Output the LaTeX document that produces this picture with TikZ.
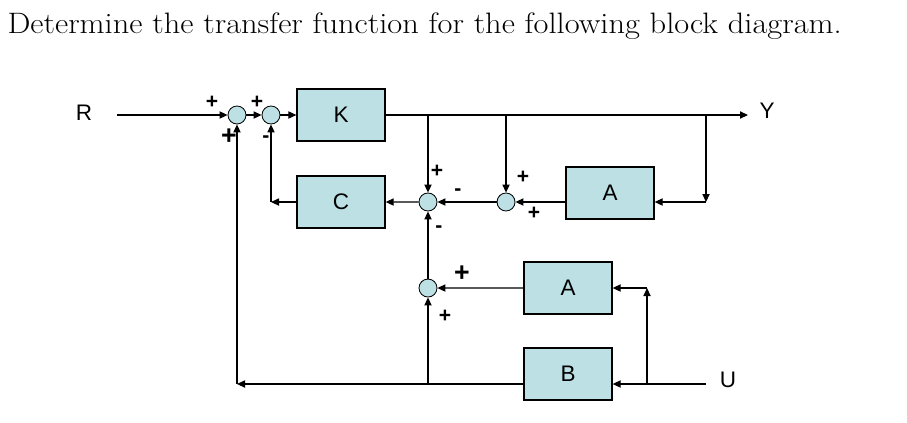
\documentclass[tikz,border=0pt]{standalone}
\usepackage{graphicx}
\usepackage{fontspec}
\setsansfont{Liberation Sans}
\usetikzlibrary{arrows.meta,positioning}

\definecolor{blockfill}{RGB}{188,224,228}

\tikzset{
  block/.style={draw,fill=blockfill,line width=0.9pt,minimum width=2.2cm,minimum height=1.3cm,inner sep=0pt,font=\sffamily\fontsize{16}{18}\selectfont},
  sum/.style={draw,circle,fill=blockfill,line width=0.6pt,minimum size=0.45cm,inner sep=0pt},
  sign/.style={font=\sffamily\bfseries\fontsize{15}{17}\selectfont,inner sep=0pt},
  bigsign/.style={font=\sffamily\bfseries\fontsize{19}{21}\selectfont,inner sep=0pt},
  lbl/.style={font=\sffamily\fontsize{16}{18}\selectfont,inner sep=0pt}
}

\begin{document}
\begin{tikzpicture}[x=0.025cm,y=-0.025cm,line width=0.8pt,>={Triangle[length=2mm,width=1.8mm]}]
\useasboundingbox (0,0) rectangle (907,422);

\node[anchor=base west,inner sep=0pt] (title) at (7,33)
  {\resizebox{20.85cm}{\height}{\fontsize{21}{25}\selectfont Determine the transfer function for the following block diagram.}};

\node[lbl]   (R)  at (84,113)                               {R};
\node[sum]   (S1) at (237,115)                              {};
\node[sum]   (S2) [node distance=0.85cm,right of=S1]        {};
\node[block] (K)  [node distance=1.75cm,right of=S2]        {K};
\node[block] (C)  [node distance=2.175cm,below of=K]        {C};
\node[sum]   (S3) at (428,202)                              {};
\node[sum]   (S4) [node distance=1.95cm,right of=S3]        {};
\node[block] (A1) at (610,193)                              {A};
\node[sum]   (S5) [node distance=2.15cm,below of=S3]        {};
\node[block] (A2) at (568,288)                              {A};
\node[block] (B)  [node distance=2.15cm,below of=A2]        {B};
\node[lbl]   (Y)  at (767,111)                              {Y};
\node[lbl]   (U)  at (728,380)                              {U};

% signs at the summing points
\node[sign]    (p1) at (212,102) {+};
\node[bigsign] (p2) at (229,137) {+};
\node[sign]    (p3) at (257,102) {+};
\node[sign]    (m1) at (266,139) {-};
\node[sign]    (p4) at (437,171) {+};
\node[sign]    (m2) at (458,192) {-};
\node[sign]    (m3) at (439,229) {-};
\node[sign]    (p5) at (523,177) {+};
\node[sign]    (p6) at (534,213) {+};
\node[bigsign] (p7) at (462,274) {+};
\node[sign]    (p8) at (445,316) {+};

\coordinate (Rin)  at (117,115);
\coordinate (Yout) at (748,115);
\coordinate (Yb)   at (706,115);
\coordinate (Yd)   at (706,202);
\coordinate (Uin)  at (706,384);
\coordinate (Ub)   at (647,384);
\coordinate (Ua)   at (647,288);
\coordinate (Bl)   at (237,384);
\coordinate (Cc)   at (S2 |- C);

\path[->] (Rin) edge (S1)
          (S1)  edge (S2)
          (S2)  edge (K)
          (S4)  edge (S3)
          (S3)  edge (C)
          (A2)  edge (S5)
          (S5)  edge (S3);

\draw[->] (K.east) -- (Yout);
\draw[->] (S3 |- K) -- (S3);
\draw[->] (S4 |- K) -- (S4);
\draw[->] (Yb) -- (Yd);
\draw[->] (Yd) -- (Yd -| A1.east);
\draw[->] (A1.west |- S4) -- (S4);
\draw[->] (C) -- (Cc);
\draw[->] (Cc) -- (S2);
\draw[->] (Uin) -- (Uin -| B.east);
\draw[->] (Ub) -- (Ua);
\draw[->] (Ua) -- (A2);
\draw[->] (B.west |- Ub) -- (Bl);
\draw[->] (Bl) -- (S1);
\draw[->] (S5 |- Ub) -- (S5);
\end{tikzpicture}
\end{document}
